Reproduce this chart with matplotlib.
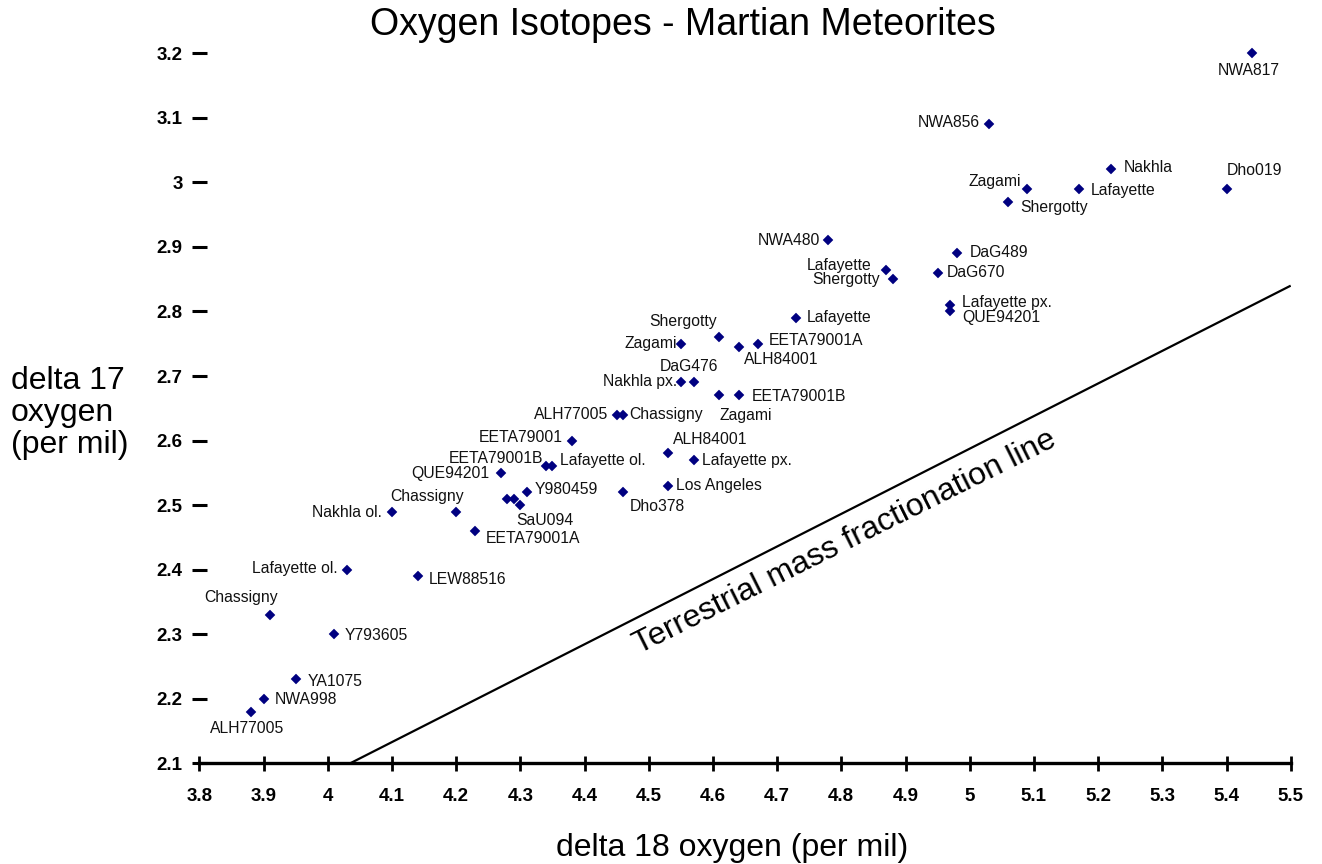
import matplotlib
matplotlib.use('Agg')
import matplotlib.pyplot as plt

plt.rcParams['font.family'] = ['Liberation Sans', 'DejaVu Sans']

# ---------------- data ----------------
title = "Oxygen Isotopes - Martian Meteorites"
x_label = "delta 18 oxygen (per mil)"
y_label = "delta 17\noxygen\n(per mil)"
line_label = "Terrestrial mass fractionation line"

names = ["NWA817", "NWA856", "Nakhla", "Zagami", "Lafayette", "Shergotty", "Dho019",
         "NWA480", "Lafayette", "Shergotty", "DaG489", "DaG670", "Lafayette px.", "QUE94201",
         "Lafayette", "EETA79001A", "Shergotty", "Zagami", "ALH84001", "DaG476", "Nakhla px.",
         "Zagami", "EETA79001B", "ALH77005", "Chassigny", "EETA79001", "EETA79001B",
         "Lafayette ol.", "ALH84001", "Lafayette px.", "Los Angeles", "Dho378", "Y980459",
         "SaU094", "", "", "QUE94201", "Nakhla ol.", "Chassigny", "EETA79001A",
         "Lafayette ol.", "LEW88516", "Chassigny", "Y793605", "YA1075", "NWA998", "ALH77005"]

d18O = [5.44, 5.03, 5.22, 5.09, 5.17, 5.06, 5.40,
        4.78, 4.87, 4.88, 4.98, 4.95, 4.97, 4.97,
        4.73, 4.67, 4.61, 4.55, 4.64, 4.57, 4.55,
        4.61, 4.64, 4.45, 4.46, 4.38, 4.34,
        4.35, 4.53, 4.57, 4.53, 4.46, 4.31,
        4.30, 4.28, 4.29, 4.27, 4.10, 4.20, 4.23,
        4.03, 4.14, 3.91, 4.01, 3.95, 3.90, 3.88]

d17O = [3.20, 3.09, 3.02, 2.99, 2.99, 2.97, 2.99,
        2.91, 2.865, 2.85, 2.89, 2.86, 2.81, 2.80,
        2.79, 2.75, 2.76, 2.75, 2.745, 2.69, 2.69,
        2.67, 2.67, 2.64, 2.64, 2.60, 2.56,
        2.56, 2.58, 2.57, 2.53, 2.52, 2.52,
        2.50, 2.51, 2.51, 2.55, 2.49, 2.49, 2.46,
        2.40, 2.39, 2.33, 2.30, 2.23, 2.20, 2.18]

tfl_d18O = [4.035, 5.5]
tfl_d17O = [2.1, 2.84]

x_ticks = [3.8, 3.9, 4.0, 4.1, 4.2, 4.3, 4.4, 4.5, 4.6, 4.7, 4.8, 4.9, 5.0, 5.1, 5.2, 5.3, 5.4, 5.5]
x_tick_labels = ["3.8", "3.9", "4", "4.1", "4.2", "4.3", "4.4", "4.5", "4.6", "4.7", "4.8",
                 "4.9", "5", "5.1", "5.2", "5.3", "5.4", "5.5"]
y_ticks = [2.1, 2.2, 2.3, 2.4, 2.5, 2.6, 2.7, 2.8, 2.9, 3.0, 3.1, 3.2]
y_tick_labels = ["2.1", "2.2", "2.3", "2.4", "2.5", "2.6", "2.7", "2.8", "2.9", "3", "3.1", "3.2"]

# ---------------- label placement (pixel offsets, alignment) ----------------
label_pos = [(-3, -17, 'center'), (-9, 2, 'right'), (13, 2, 'left'), (-6, 7, 'right'),
             (12, -2, 'left'), (12, -6, 'left'), (0, 18, 'left'),
             (-8, 0, 'right'), (-15, 4, 'right'), (-13, 0, 'right'), (13, 1, 'left'),
             (9, 0, 'left'), (12, 3, 'left'), (12, -6, 'left'),
             (10, 0, 'left'), (11, 3, 'left'), (-2, 16, 'right'), (-4, 0, 'right'),
             (5, -13, 'left'), (-5, 16, 'center'), (-4, 1, 'right'),
             (0, -20, 'left'), (13, -1, 'left'), (-8, 0, 'right'), (6, 0, 'left'),
             (-9, 3, 'right'), (-3, 8, 'right'),
             (8, 6, 'left'), (5, 14, 'left'), (8, -1, 'left'), (8, 0, 'left'),
             (7, -14, 'left'), (8, 3, 'left'),
             (-4, -15, 'left'), (0, 0, 'left'), (0, 0, 'left'), (-12, -1, 'right'),
             (-10, -1, 'right'), (8, 15, 'right'), (10, -8, 'left'),
             (-9, 1, 'right'), (11, -3, 'left'), (-29, 17, 'center'), (11, -1, 'left'),
             (12, -2, 'left'), (11, -1, 'left'), (-4, -17, 'center')]

W, H = 1322, 864
fig = plt.figure(figsize=(W / 100, H / 100), dpi=100)
fig.patch.set_facecolor('white')
ax = fig.add_axes([199.3 / W, 1 - 763.3 / H, 1091.4 / W, 710.0 / H])
ax.set_xlim(3.8, 5.5)
ax.set_ylim(2.1, 3.2)

ax.plot(tfl_d18O, tfl_d17O, color='black', lw=1.6, solid_capstyle='butt', zorder=2)
ax.plot(d18O, d17O, linestyle='none', marker='D', ms=5.4, color='#000080',
        mec='#000080', mew=0.3, clip_on=False, zorder=3)

for name, x, y, (dx, dy, ha) in zip(names, d18O, d17O, label_pos):
    if not name:
        continue
    ax.annotate(name, (x, y), xytext=(dx, dy), textcoords='offset pixels',
                ha=ha, va='center', fontsize=11.3, color='#111111')

ax.text(4.805, 2.443, line_label, rotation=26.5, rotation_mode='anchor',
        ha='center', va='center', fontsize=23, color='black')

for s in ['top', 'right', 'left']:
    ax.spines[s].set_visible(False)
ax.spines['bottom'].set_linewidth(2.4)

ax.set_xticks(x_ticks)
ax.set_xticklabels(x_tick_labels)
ax.set_yticks(y_ticks)
ax.set_yticklabels(y_tick_labels)
ax.tick_params(axis='x', direction='inout', length=10.8, width=2.0, pad=12.5,
               labelsize=13.5)
ax.tick_params(axis='y', direction='inout', length=10.8, width=2.2, pad=6.5,
               labelsize=13.5)
for lab in ax.get_xticklabels() + ax.get_yticklabels():
    lab.set_fontweight('bold')

fig.text(683 / W, 1 - 25 / H, title, ha='center', va='center', fontsize=27)
fig.text(732.5 / W, 1 - 848 / H, x_label, ha='center', va='center', fontsize=23)
fig.text(11 / W, 1 - 413 / H, y_label, ha='left', va='center', fontsize=23,
         linespacing=1.07)

fig.savefig('out.png', dpi=100)
